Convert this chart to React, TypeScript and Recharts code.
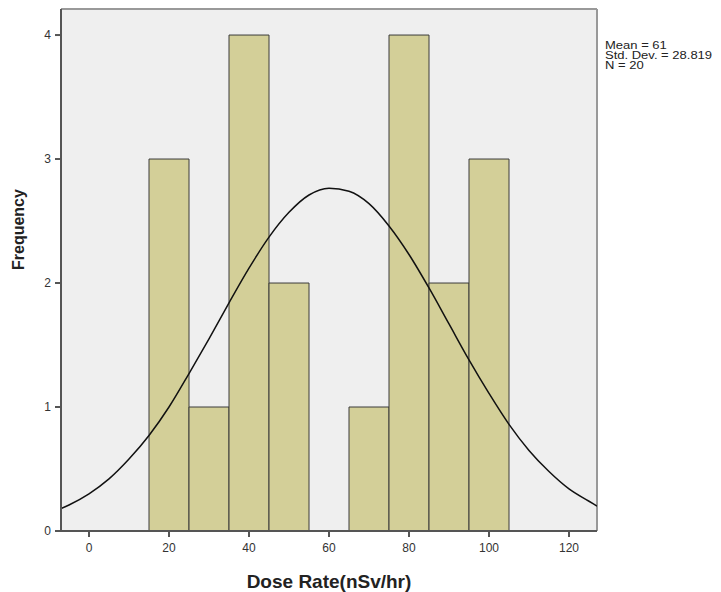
import { ComposedChart, Line, XAxis, YAxis, CartesianGrid, ReferenceLine, ReferenceArea } from "recharts";

// histogram bins (centre of each 10-wide bin) and their counts
const binCenters = [20, 30, 40, 50, 60, 70, 80, 90, 100];
const frequencies = [3, 1, 4, 2, 0, 1, 4, 2, 3];
const binWidth = 10;

// normal curve
const curveX = [-7, -5, 0, 5, 10, 15, 20, 25, 30, 35, 40, 45, 50, 55, 60, 65, 70, 75, 80, 85, 90, 95, 100, 105, 110, 115, 120, 125, 127];
const curveY = [0.18, 0.21, 0.3, 0.42, 0.58, 0.77, 1.0, 1.27, 1.55, 1.84, 2.12, 2.37, 2.57, 2.71, 2.765, 2.74, 2.64, 2.46, 2.23, 1.96, 1.67, 1.38, 1.11, 0.86, 0.65, 0.48, 0.34, 0.24, 0.2];

const xTicks = [0, 20, 40, 60, 80, 100, 120];
const yTicks = [0, 1, 2, 3, 4];
const stats = ["Mean = 61", "Std. Dev. = 28.819", "N = 20"];

const curve = curveX.map((x, i) => ({ x, y: curveY[i] }));

const font = "'Liberation Sans', Arial, sans-serif";

export default function App() {
  return (
    <div style={{ position: "relative", width: 713, height: 584, fontFamily: font }}>
      <ComposedChart
        width={713}
        height={584}
        data={curve}
        margin={{ top: 1, right: 124, bottom: 0, left: 0 }}
      >
        <CartesianGrid horizontal={false} vertical={false} fill="#efefef" />
        <XAxis
          dataKey="x"
          type="number"
          domain={[-7, 127]}
          ticks={xTicks}
          allowDataOverflow
          height={61}
          tickSize={6}
          tickMargin={6}
          stroke="#555"
          strokeWidth={2}
          tick={{ fill: "#333", fontSize: 12, fontFamily: font }}
          label={{ value: "Dose Rate(nSv/hr)", position: "insideBottom", offset: 4, fill: "#222", fontSize: 19, fontWeight: "bold", fontFamily: font }}
        />
        <YAxis
          type="number"
          domain={[0, 4.21]}
          ticks={yTicks}
          allowDataOverflow
          width={53}
          tickSize={6}
          tickMargin={4}
          stroke="#555"
          strokeWidth={2}
          tick={{ fill: "#333", fontSize: 12, fontFamily: font }}
          label={{ value: "Frequency", angle: -90, position: "insideLeft", offset: 10, fill: "#222", fontSize: 16, fontWeight: "bold", fontFamily: font }}
        />
        {binCenters.map((c, i) =>
          frequencies[i] > 0 ? (
            <ReferenceArea
              key={c}
              x1={c - binWidth / 2}
              x2={c + binWidth / 2}
              y1={0}
              y2={frequencies[i]}
              fill="#d3cf98"
              fillOpacity={1}
              stroke="#3a3a3a"
              strokeWidth={1}
            />
          ) : null
        )}
        <ReferenceLine y={4.21} stroke="#999" strokeWidth={2} />
        <ReferenceLine x={127} stroke="#999" strokeWidth={2} />
        <Line dataKey="y" type="monotone" stroke="#111" strokeWidth={1.5} dot={false} activeDot={false} isAnimationActive={false} />
      </ComposedChart>
      <div style={{ position: "absolute", left: 597, top: 33, fontSize: 10, lineHeight: "10px", color: "#222", whiteSpace: "nowrap", transform: "scaleX(1.3)", transformOrigin: "left top" }}>
        {stats.map((s) => (
          <div key={s}>{s}</div>
        ))}
      </div>
    </div>
  );
}
